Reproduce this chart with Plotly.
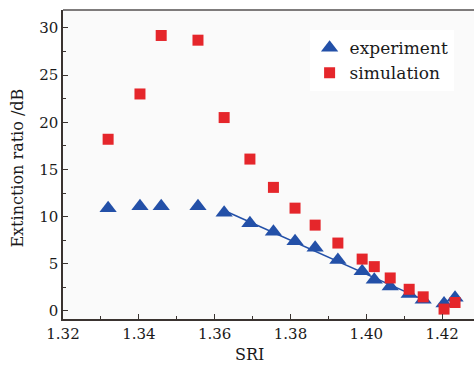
import numpy as np
import plotly.graph_objects as go

# Data
exp_x = [1.3319, 1.3403, 1.3459, 1.3556, 1.3625, 1.3693, 1.3755, 1.3812, 1.3865,
         1.3925, 1.3989, 1.4021, 1.4063, 1.4113, 1.4150, 1.4205, 1.4234]
exp_y = [10.9, 11.1, 11.1, 11.1, 10.4, 9.3, 8.4, 7.4, 6.7,
         5.4, 4.2, 3.3, 2.6, 1.8, 1.2, 0.8, 1.4]
sim_x = [1.3319, 1.3403, 1.3459, 1.3556, 1.3625, 1.3693, 1.3755, 1.3812, 1.3865,
         1.3925, 1.3989, 1.4021, 1.4063, 1.4113, 1.4150, 1.4205, 1.4234]
sim_y = [18.2, 23.0, 29.2, 28.7, 20.5, 16.1, 13.1, 10.9, 9.1,
         7.2, 5.5, 4.7, 3.5, 2.3, 1.5, 0.2, 0.9]

x_ticks = [1.32, 1.34, 1.36, 1.38, 1.40, 1.42]
y_ticks = [0, 5, 10, 15, 20, 25, 30]

# linear fit of the experimental points in the linear region
fx = np.array([x for x in exp_x if 1.362 <= x <= 1.416])
fy = np.array([y for x, y in zip(exp_x, exp_y) if 1.362 <= x <= 1.416])
k, b = np.polyfit(fx, fy, 1)
line_x = [fx.min(), fx.max()]
line_y = [k * v + b for v in line_x]

BLUE = "#2350a8"
RED = "#e5262b"
FONT = "DejaVu Serif"

fig = go.Figure()
fig.add_trace(go.Scatter(x=line_x, y=line_y, mode="lines",
                         line=dict(color=BLUE, width=1.6), showlegend=False,
                         hoverinfo="skip"))
fig.add_trace(go.Scatter(x=exp_x, y=exp_y, mode="markers", name="experiment",
                         marker=dict(symbol="triangle-up", size=15, color=BLUE,
                                     line=dict(width=0))))
fig.add_trace(go.Scatter(x=sim_x, y=sim_y, mode="markers", name="simulation",
                         marker=dict(symbol="square", size=11, color=RED,
                                     line=dict(width=0))))

axis_common = dict(showgrid=False, zeroline=False, showline=True,
                   linecolor="#3a3330", linewidth=1.5,
                   ticks="inside", ticklen=5, tickwidth=1.2, tickcolor="#3a3330",
                   tickfont=dict(family=FONT, size=15, color="#1a1a1a"))

fig.update_xaxes(range=[1.32, 1.4284], tickvals=x_ticks,
                 ticktext=[f"{v:.2f}" for v in x_ticks],
                 minor=dict(ticks="inside", ticklen=3, tickwidth=1.2,
                            tickcolor="#3a3330", dtick=0.01, tick0=1.32),
                 **axis_common)
fig.update_yaxes(range=[-0.85, 31.9], tickvals=y_ticks,
                 minor=dict(ticks="inside", ticklen=3, tickwidth=1.2,
                            tickcolor="#3a3330", dtick=2.5, tick0=0),
                 **axis_common)

fig.add_shape(type="line", xref="paper", yref="paper", x0=0, x1=1, y0=1, y1=1,
              line=dict(color="#555050", width=1.5))

fig.add_annotation(text="SRI", xref="paper", yref="paper", x=0.4526, y=-0.1165,
                   showarrow=False, yanchor="middle",
                   font=dict(family=FONT, size=16, color="#1a1a1a"))
fig.add_annotation(text="Extinction ratio /dB", xref="paper", yref="paper",
                   x=-0.1095, xanchor="center", y=0.49, textangle=-90,
                   showarrow=False, font=dict(family=FONT, size=16, color="#1a1a1a"))

fig.update_layout(
    width=474, height=369,
    margin=dict(l=63, r=0, t=10, b=50),
    paper_bgcolor="white", plot_bgcolor="#fafafa",
    legend=dict(x=0.60, y=0.935, xanchor="left", yanchor="top",
                bgcolor="white", borderwidth=0,
                font=dict(family=FONT, size=17, color="#1a1a1a"),
                itemwidth=30, tracegroupgap=0),
)

fig.write_html("out.html", config={"displayModeBar": False},
               post_script="document.body.style.margin='0';")
